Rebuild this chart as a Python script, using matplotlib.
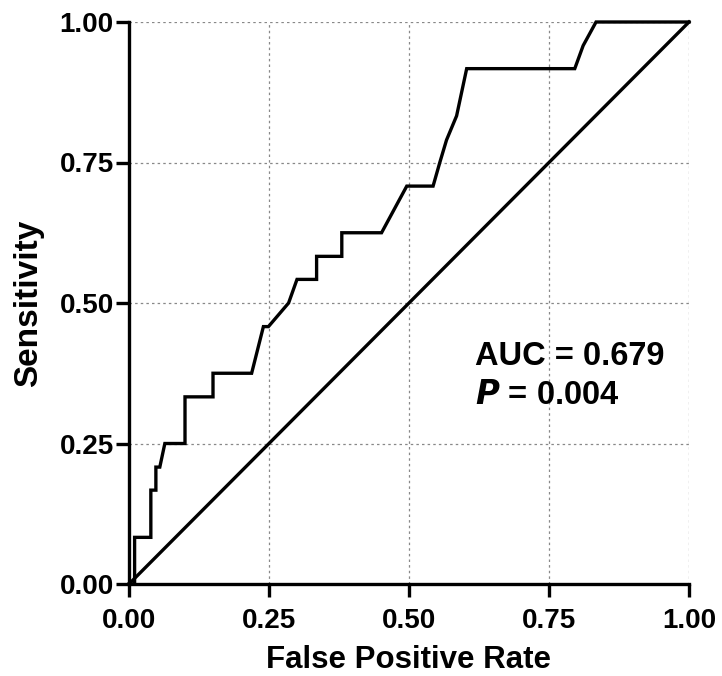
import matplotlib
matplotlib.use("Agg")
import matplotlib.pyplot as plt

plt.rcParams['font.family'] = ['Liberation Sans', 'DejaVu Sans']
plt.rcParams['font.weight'] = 'bold'

# ROC curve coordinates (false positive rate, sensitivity)
fpr = [0, 0.010, 0.010, 0.039, 0.039, 0.048, 0.048, 0.055, 0.064, 0.100, 0.100,
       0.150, 0.150, 0.219, 0.240, 0.249, 0.285, 0.300, 0.335, 0.335, 0.380, 0.380,
       0.451, 0.496, 0.543, 0.555, 0.567, 0.585, 0.603, 0.796, 0.811, 0.834, 1.0]
tpr = [0, 0, 0.083, 0.083, 0.167, 0.167, 0.208, 0.208, 0.25, 0.25, 0.333,
       0.333, 0.375, 0.375, 0.458, 0.458, 0.5, 0.542, 0.542, 0.583, 0.583, 0.625,
       0.625, 0.708, 0.708, 0.75, 0.79, 0.833, 0.917, 0.917, 0.958, 1.0, 1.0]

# Reference (chance) line
ref_x = [0, 1]
ref_y = [0, 1]

ticks = [0.0, 0.25, 0.5, 0.75, 1.0]
tick_labels = ["0.00", "0.25", "0.50", "0.75", "1.00"]

auc_text = "AUC = 0.679"
p_value = "0.004"

fig = plt.figure(figsize=(7.22, 6.76), dpi=100)
ax = fig.add_axes([129 / 722, 92 / 676, 560 / 722, 562 / 676])

ax.plot(fpr, tpr, color='black', lw=2.4, clip_on=False, solid_joinstyle='miter', zorder=3)
ax.plot(ref_x, ref_y, color='black', lw=2.4, clip_on=False, zorder=3)

ax.set_xlim(0, 1)
ax.set_ylim(0, 1)
ax.set_xticks(ticks)
ax.set_xticklabels(tick_labels)
ax.set_yticks(ticks)
ax.set_yticklabels(tick_labels)

ax.grid(True, color='#888888', linestyle=(0, (2, 2.5)), linewidth=0.9)
ax.set_axisbelow(True)

for side in ['top', 'right']:
    ax.spines[side].set_visible(False)
for side in ['left', 'bottom']:
    ax.spines[side].set_linewidth(2.4)

ax.tick_params(axis='both', direction='out', length=9.5, width=2.4, labelsize=20)
ax.tick_params(axis='x', pad=8)
ax.tick_params(axis='y', pad=1.5)
for lbl in ax.get_xticklabels() + ax.get_yticklabels():
    lbl.set_fontweight('bold')

ax.set_xlabel("False Positive Rate", fontsize=22.5, fontweight='bold', labelpad=7.5)
ax.set_ylabel("Sensitivity", fontsize=24, fontweight='bold', labelpad=11)

ax.text(0.617, 0.404, auc_text, fontsize=23.5, fontweight='bold', va='center', ha='left')
ax.text(0.617, 0.335, r"$\mathbfit{P}$" + " = " + p_value, fontsize=23.5,
        fontweight='bold', va='center', ha='left')

fig.savefig("out.png", dpi=100)
